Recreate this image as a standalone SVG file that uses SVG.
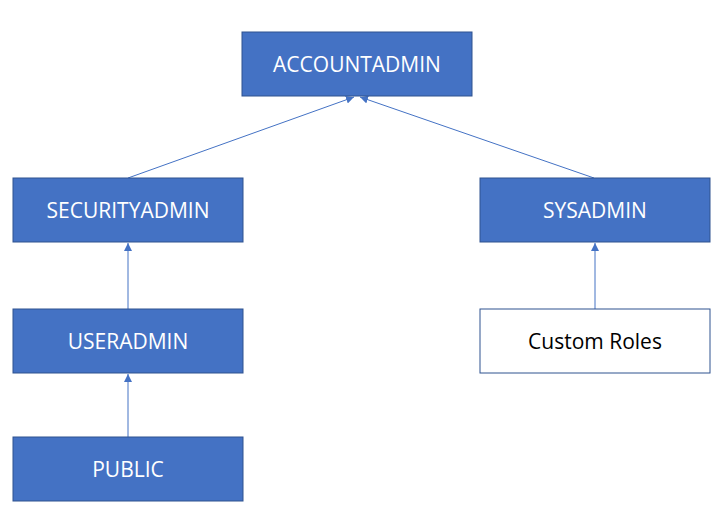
<svg xmlns="http://www.w3.org/2000/svg" width="724" height="514" viewBox="0 0 724 514">
<style>
.box{fill:#4472C4;stroke:#2F528F;stroke-width:1}
.wbox{fill:#FFFFFF;stroke:#2F528F;stroke-width:1}
.t{font-family:"Open Sans","Liberation Sans",sans-serif;font-size:21px;fill:#FFFFFF;text-anchor:middle;dominant-baseline:central}
.tb{fill:#000000}
.c{stroke:#4472C4;stroke-width:1;fill:none;marker-end:url(#ah)}
</style>
<defs>
<marker id="ah" viewBox="0 0 10 10" refX="10" refY="5" markerWidth="8" markerHeight="8" markerUnits="userSpaceOnUse" orient="auto">
<path d="M0,0 L10,5 L0,10 z" fill="#4472C4"/>
</marker>
</defs>
<rect width="724" height="514" fill="#FFFFFF"/>
<g id="connectors">
<line class="c" x1="128" y1="178" x2="354" y2="97"/>
<line class="c" x1="594" y1="178" x2="360" y2="97"/>
<line class="c" x1="128" y1="309" x2="128" y2="243"/>
<line class="c" x1="128" y1="437" x2="128" y2="374"/>
<line class="c" x1="595" y1="309" x2="595" y2="243"/>
</g>
<g id="accountadmin"><rect class="box" x="242" y="32" width="230" height="64"/><text class="t" x="357" y="64">ACCOUNTADMIN</text></g>
<g id="securityadmin"><rect class="box" x="13" y="178" width="230" height="64"/><text class="t" x="128" y="210">SECURITYADMIN</text></g>
<g id="sysadmin"><rect class="box" x="480" y="178" width="230" height="64"/><text class="t" x="595" y="210">SYSADMIN</text></g>
<g id="useradmin"><rect class="box" x="13" y="309" width="230" height="64"/><text class="t" x="128" y="341">USERADMIN</text></g>
<g id="public"><rect class="box" x="13" y="437" width="230" height="64"/><text class="t" x="128" y="469">PUBLIC</text></g>
<g id="customroles"><rect class="wbox" x="480" y="309" width="230" height="64"/><text class="t tb" x="595" y="341">Custom Roles</text></g>
</svg>
